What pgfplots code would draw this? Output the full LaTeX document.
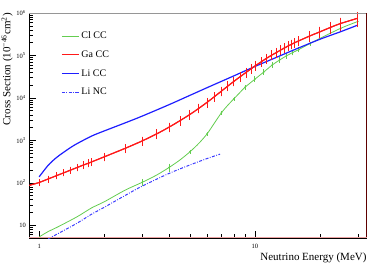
\documentclass[border=0pt]{standalone}
\usepackage{fontspec}
\setmainfont{Liberation Serif}
\usepackage{pgfplots}
\usepackage{pgfplotstable}
\pgfplotsset{compat=1.18}
\definecolor{clgreen}{RGB}{100,205,80}
\definecolor{gared}{RGB}{255,25,25}
\definecolor{cccblue}{RGB}{30,30,255}
\definecolor{ncblue}{RGB}{60,60,255}
\definecolor{framered}{RGB}{95,0,0}
\definecolor{framegray}{RGB}{150,150,150}
\definecolor{pinkline}{RGB}{235,160,160}
\pgfplotstableread{
x y e
0.88 84 0
1.0 101.6 0.11
1.1 123 0.11
1.2 146.2 0.11
1.3 171.8 0.11
1.4 199.5 0.11
1.5 229.1 0.12
1.6 260.6 0.13
1.7 292 0.14
1.75 310 0.14
2.0 407.4 0.15
2.5 645.7 0.16
3.0 966.1 0.17
3.5 1413 0.18
4.0 2042 0.18
4.5 2917 0.18
5.0 4074 0.18
5.5 5689 0.18
6.0 7852 0.18
6.5 10720 0.18
7.0 14450 0.18
7.5 19050 0.18
8.0 24550 0.18
8.55 31620 0.18
9.1 39810 0.18
9.6 48420 0.18
10.1 58210 0.18
10.7 70790 0.18
11.3 85110 0.18
12.0 102300 0.18
12.6 117500 0.18
13.2 134900 0.18
13.7 149600 0.18
14.3 167900 0.18
14.8 184100 0.18
15.3 199500 0.18
16.0 221300 0.19
18 288400 0.21
20 358900 0.22
22.4 457100 0.25
24.9 562300 0.28
29.9 749900 0.33
}\gatable
\pgfplotsset{gastyle/.style={color=gared, line width=1.1pt, smooth,
  error bars/y dir=both, error bars/y explicit relative, error bars/error mark=-,
  error bars/error bar style={line width=1pt, color=gared},
  error bars/error mark options={color=gared, mark size=1.5pt, line width=1pt}}}
\begin{document}
\begin{tikzpicture}
\begin{axis}[
  name=ax,
  scale only axis, width=337.4pt, height=225pt,
  xmode=log, ymode=log,
  xmin=0.9, xmax=33, ymin=5, ymax=1e6,
  xtick={1,10}, xticklabels={1,10},
  minor xtick={2,3,4,5,6,7,8,9,20,30},
  ytick={10,100,1000,10000,100000,1000000},
  yticklabels={10,10\textsuperscript{2},10\textsuperscript{3},10\textsuperscript{4},10\textsuperscript{5},10\textsuperscript{6}},
  minor ytick={6,7,8,9,20,30,40,50,60,70,80,90,200,300,400,500,600,700,800,900,2000,3000,4000,5000,6000,7000,8000,9000,20000,30000,40000,50000,60000,70000,80000,90000,200000,300000,400000,500000,600000,700000,800000,900000},
  tick align=inside, tick pos=left,
  major tick length=7pt, minor tick length=4pt,
  tick style={line width=0.5pt, black},
  ticklabel style={font=\fontsize{6.5}{7.5}\selectfont},
  xticklabel style={yshift=-3pt},
  axis line style={line width=0.8pt},
  clip mode=individual,
  legend style={draw=none, fill=none, at={(0.085,0.935)}, anchor=north west,
    font=\fontsize{10}{12}\selectfont, row sep=6.5pt},
  legend cell align=left,
]
% Cl CC line
\addplot[color=clgreen, line width=0.8pt, smooth] coordinates {
(1.0,5.3) (1.1,7.08) (1.22,9.12) (1.5,15.85) (1.75,25.6) (2.0,35.5) (2.5,66.8)
(3.0,102.3) (3.5,151.4) (4.0,229.1) (4.5,346.7) (5.0,537) (5.5,851) (6.0,1413)
(6.5,2570) (7.0,4467) (7.5,6761) (8.0,9550) (8.5,13180) (9.0,17780) (10,27540)
(11,40740) (12,58880) (13,77620) (14,97720) (15,117500) (16,138000) (18,190500)
(20,251200) (25,436500) (30,631000)};
\addlegendentry{Cl CC}
% Cl CC points with error bars
\addplot[forget plot, color=clgreen, only marks, mark=*, mark size=0.6pt,
  error bars/.cd, y dir=both, y explicit relative, error mark=-,
  error bar style={line width=0.8pt, color=clgreen},
  error mark options={color=clgreen, mark size=1.2pt, line width=0.8pt}]
  table[x=x, y=y, y error=e] {
x y e
3.0 102.3 0.13
4.0 229.1 0.15
5.0 537 0.04
6.0 1413 0.04
7.0 4467 0.04
8.0 9550 0.05
9.0 17780 0.06
10 27540 0.09
11 40740 0.09
12 58880 0.09
13 77620 0.09
14 97720 0.09
15 117500 0.09
16 138000 0.09
18 190500 0.04
20 251200 0.04
25 436500 0.04
30 631000 0.04
};
% Ga CC (legend entry)
\addplot[gastyle] table[x=x, y=y, y error=e] {\gatable};
\addlegendentry{Ga CC}
% Li CC
\addplot[draw=cccblue, line width=1.2pt, smooth,
  legend image code/.code={\draw[draw=cccblue, line width=1.2pt] (0cm,0cm) -- (0.6cm,0cm);}] coordinates {
(1.0,138) (1.1,257) (1.2,389) (1.3,525) (1.46,776) (1.75,1259) (2.0,1660)
(2.5,2570) (3.0,3715) (4.0,6918) (5.0,11480) (6.0,17380) (7.0,24550)
(8.0,33110) (10,54950) (12,81280) (15,131800) (20,239900) (25,363100) (30,518800)};
\addlegendentry{Li CC}
% Li NC
\addplot[color=ncblue, line width=1pt, smooth,
  dash pattern=on 3pt off 1.5pt on 0.8pt off 1.5pt] coordinates {
(1.1,4.79) (1.12,5.01) (1.22,6.31) (1.5,11.2) (1.75,18.2) (2.0,26.3) (2.5,50.1)
(3.0,83.2) (4.0,166) (5.0,263) (6.0,372) (6.9,473)};
\addlegendentry{Li NC}
% Ga CC again on top
\addplot[forget plot, gastyle] table[x=x, y=y, y error=e] {\gatable};
% frame colours
\draw[framegray, line width=0.9pt] (rel axis cs:0,1) -- (rel axis cs:1,1);
\draw[framered, line width=0.9pt] (rel axis cs:1,0) -- (rel axis cs:1,1);
\draw[pinkline, line width=0.5pt] ([yshift=0.8pt]rel axis cs:0,0) -- ([yshift=0.8pt]rel axis cs:1,0);
% titles
\node[rotate=90, anchor=base east, inner sep=0pt, font=\fontsize{11}{13}\selectfont]
  at ([xshift=-18.8pt]rel axis cs:0,1) {Cross Section (10\textsuperscript{−46}cm\textsuperscript{2})};
\node[anchor=base east, inner sep=0pt, font=\fontsize{11}{13}\selectfont]
  at ([yshift=-22pt]rel axis cs:1,0) {Neutrino Energy (MeV)};
\end{axis}
\path[use as bounding box] ([shift={(-29.3pt,-27pt)}]ax.south west) rectangle ([shift={(23.3pt,13pt)}]ax.north east);
\end{tikzpicture}
\end{document}
